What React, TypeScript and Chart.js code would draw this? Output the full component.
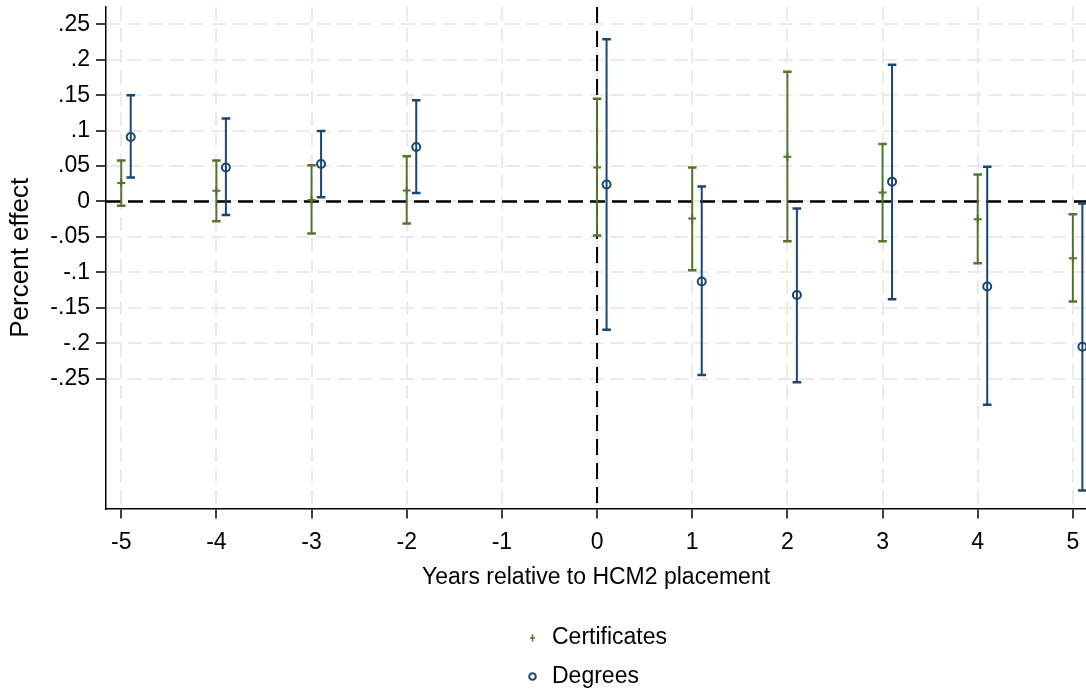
import React, { useEffect, useRef } from 'react';
import { Chart, registerables } from 'chart.js';

Chart.register(...registerables);

// ---- data ----
const years = [-5, -4, -3, -2, 0, 1, 2, 3, 4, 5];

const certEst = [0.026, 0.015, 0.002, 0.0155, 0.048, -0.024, 0.063, 0.0127, -0.025, -0.08];
const certLo = [-0.006, -0.028, -0.045, -0.031, -0.048, -0.097, -0.056, -0.056, -0.087, -0.141];
const certHi = [0.058, 0.058, 0.051, 0.064, 0.145, 0.048, 0.183, 0.081, 0.038, -0.018];

const degEst = [0.091, 0.048, 0.053, 0.077, 0.024, -0.113, -0.132, 0.028, -0.12, -0.205];
const degLo = [0.034, -0.019, 0.006, 0.012, -0.181, -0.245, -0.255, -0.138, -0.287, -0.408];
const degHi = [0.15, 0.117, 0.0995, 0.143, 0.229, 0.021, -0.0098, 0.193, 0.049, -0.003];

const xTicks = [-5, -4, -3, -2, -1, 0, 1, 2, 3, 4, 5];
const xTickLabels = ['-5', '-4', '-3', '-2', '-1', '0', '1', '2', '3', '4', '5'];
const yTicks = [0.25, 0.2, 0.15, 0.1, 0.05, 0, -0.05, -0.1, -0.15, -0.2, -0.25];
const yTickLabels = ['.25', '.2', '.15', '.1', '.05', '0', '-.05', '-.1', '-.15', '-.2', '-.25'];

const seriesNames = ['Certificates', 'Degrees'];
const xTitle = 'Years relative to HCM2 placement';
const yTitle = 'Percent effect';

// ---- styling ----
const GREEN = '#55752f';
const BLUE = '#1a476f';
const FONT = "'Liberation Sans', Arial, Helvetica, sans-serif";
const CERT_OFFSET = 0;
const DEG_OFFSET = 0.1;

function whiskers(xs: number[], lo: number[], hi: number[], off: number) {
  const out: any[] = [];
  xs.forEach((x, i) => {
    out.push({ x: x + off, y: lo[i] }, { x: x + off, y: hi[i] }, { x: x + off, y: null });
  });
  return out;
}
function caps(xs: number[], lo: number[], hi: number[], off: number) {
  const out: any[] = [];
  xs.forEach((x, i) => {
    out.push({ x: x + off, y: lo[i] }, { x: x + off, y: hi[i] });
  });
  return out;
}
function pts(xs: number[], v: number[], off: number) {
  return xs.map((x, i) => ({ x: x + off, y: v[i] }));
}

const refLines = {
  id: 'refLines',
  beforeDatasetsDraw(chart: any) {
    const { ctx, chartArea: a, scales } = chart;
    const y0 = scales.y.getPixelForValue(0);
    const x0 = scales.x.getPixelForValue(0);
    ctx.save();
    ctx.beginPath();
    ctx.rect(a.left, a.top, a.right - a.left, a.bottom - a.top);
    ctx.clip();
    ctx.strokeStyle = '#000';
    ctx.setLineDash([15, 7]);
    ctx.lineWidth = 2.5;
    ctx.beginPath();
    ctx.moveTo(a.left, y0);
    ctx.lineTo(a.right, y0);
    ctx.stroke();
    ctx.lineWidth = 2;
    ctx.setLineDash([16, 8]);
    ctx.beginPath();
    ctx.moveTo(x0, a.top);
    ctx.lineTo(x0, a.bottom);
    ctx.stroke();
    ctx.restore();
  },
};

const stataLegend = {
  id: 'stataLegend',
  afterDraw(chart: any) {
    const { ctx } = chart;
    const mx = 532.5;
    const tx = 552;
    const y1 = 638;
    const y2 = 676.5;
    ctx.save();
    ctx.font = `23px ${FONT}`;
    ctx.textBaseline = 'middle';
    ctx.textAlign = 'left';
    ctx.fillStyle = '#000';
    ctx.strokeStyle = GREEN;
    ctx.lineWidth = 1.6;
    ctx.beginPath();
    ctx.moveTo(mx - 2.6, y1);
    ctx.lineTo(mx + 2.6, y1);
    ctx.moveTo(mx, y1 - 3.6);
    ctx.lineTo(mx, y1 + 3.6);
    ctx.stroke();
    ctx.fillText(seriesNames[0], tx, y1);
    ctx.strokeStyle = BLUE;
    ctx.lineWidth = 2;
    ctx.beginPath();
    ctx.arc(mx, y2, 3.3, 0, Math.PI * 2);
    ctx.stroke();
    ctx.fillText(seriesNames[1], tx, y2);
    ctx.restore();
  },
};

export default function App() {
  const ref = useRef<HTMLCanvasElement | null>(null);

  useEffect(() => {
    if (!ref.current) return;
    const chart = new Chart(ref.current, {
      type: 'scatter',
      data: {
        datasets: [
          {
            label: seriesNames[1] + ' est',
            data: pts(years, degEst, DEG_OFFSET),
            pointStyle: 'circle',
            pointRadius: 4,
            pointBorderWidth: 2,
            pointBorderColor: BLUE,
            pointBackgroundColor: 'rgba(0,0,0,0)',
            order: 0,
          },
          {
            label: seriesNames[0] + ' est',
            data: pts(years, certEst, CERT_OFFSET),
            pointStyle: 'cross',
            pointRadius: 4,
            pointBorderWidth: 2,
            pointBorderColor: GREEN,
            order: 1,
          },
          {
            label: seriesNames[1] + ' caps',
            data: caps(years, degLo, degHi, DEG_OFFSET),
            pointStyle: 'line',
            pointRadius: 4.3,
            pointBorderWidth: 2.5,
            pointBorderColor: BLUE,
            order: 2,
          },
          {
            label: seriesNames[0] + ' caps',
            data: caps(years, certLo, certHi, CERT_OFFSET),
            pointStyle: 'line',
            pointRadius: 4.3,
            pointBorderWidth: 2.5,
            pointBorderColor: GREEN,
            order: 3,
          },
          {
            label: seriesNames[1] + ' ci',
            data: whiskers(years, degLo, degHi, DEG_OFFSET),
            showLine: true,
            spanGaps: false,
            borderColor: BLUE,
            borderWidth: 2,
            pointRadius: 0,
            order: 4,
          },
          {
            label: seriesNames[0] + ' ci',
            data: whiskers(years, certLo, certHi, CERT_OFFSET),
            showLine: true,
            spanGaps: false,
            borderColor: GREEN,
            borderWidth: 2,
            pointRadius: 0,
            order: 5,
          },
        ] as any,
      },
      options: {
        animation: false,
        responsive: false,
        events: [],
        layout: { autoPadding: false, padding: { top: 7, left: 0, right: 0, bottom: 101 } },
        plugins: {
          legend: { display: false },
          tooltip: { enabled: false },
        },
        scales: {
          x: {
            type: 'linear',
            min: -5.16,
            max: 5.138,
            afterBuildTicks: (s: any) => {
              s.ticks = xTicks.map((v) => ({ value: v }));
            },
            afterFit: (s: any) => {
              s.height = 82.5;
              s.paddingLeft = 0;
              s.paddingRight = 0;
            },
            ticks: {
              callback: (v: any) => xTickLabels[xTicks.indexOf(Number(v))] ?? '',
              font: { family: FONT, size: 23 },
              color: '#000',
              padding: 10,
              maxRotation: 0,
              autoSkip: false,
            },
            grid: {
              color: '#ebebeb',
              lineWidth: 2,
              tickColor: '#000',
              tickLength: 10,
              tickWidth: 1.5,
            },
            border: { display: true, color: '#000', width: 1.5, dash: [14, 7] },
            title: {
              display: true,
              text: xTitle,
              font: { family: FONT, size: 23 },
              color: '#000',
              padding: { top: 0, bottom: 0 },
            },
          },
          y: {
            type: 'linear',
            min: -0.4333,
            max: 0.2745,
            afterBuildTicks: (s: any) => {
              s.ticks = yTicks.map((v) => ({ value: v }));
            },
            afterFit: (s: any) => {
              s.width = 106;
              s.paddingTop = 0;
              s.paddingBottom = 0;
            },
            ticks: {
              callback: (v: any) => {
                const i = yTicks.findIndex((t) => Math.abs(t - Number(v)) < 1e-9);
                return i >= 0 ? yTickLabels[i] : '';
              },
              font: { family: FONT, size: 23 },
              color: '#000',
              padding: 6,
              autoSkip: false,
            },
            grid: {
              color: '#ebebeb',
              lineWidth: 2,
              tickColor: '#000',
              tickLength: 10,
              tickWidth: 1.5,
            },
            border: { display: true, color: '#000', width: 1.5, dash: [14, 7] },
            title: {
              display: true,
              text: yTitle,
              font: { family: FONT, size: 26 },
              color: '#000',
              padding: { top: 5, bottom: 0 },
            },
          },
        },
      } as any,
      plugins: [refLines, stataLegend],
    });
    return () => chart.destroy();
  }, []);

  return (
    <div style={{ position: 'absolute', left: 0, top: 0, width: 1086, height: 692, background: '#fff' }}>
      <canvas ref={ref} width={1086} height={692} style={{ display: 'block' }} />
    </div>
  );
}
